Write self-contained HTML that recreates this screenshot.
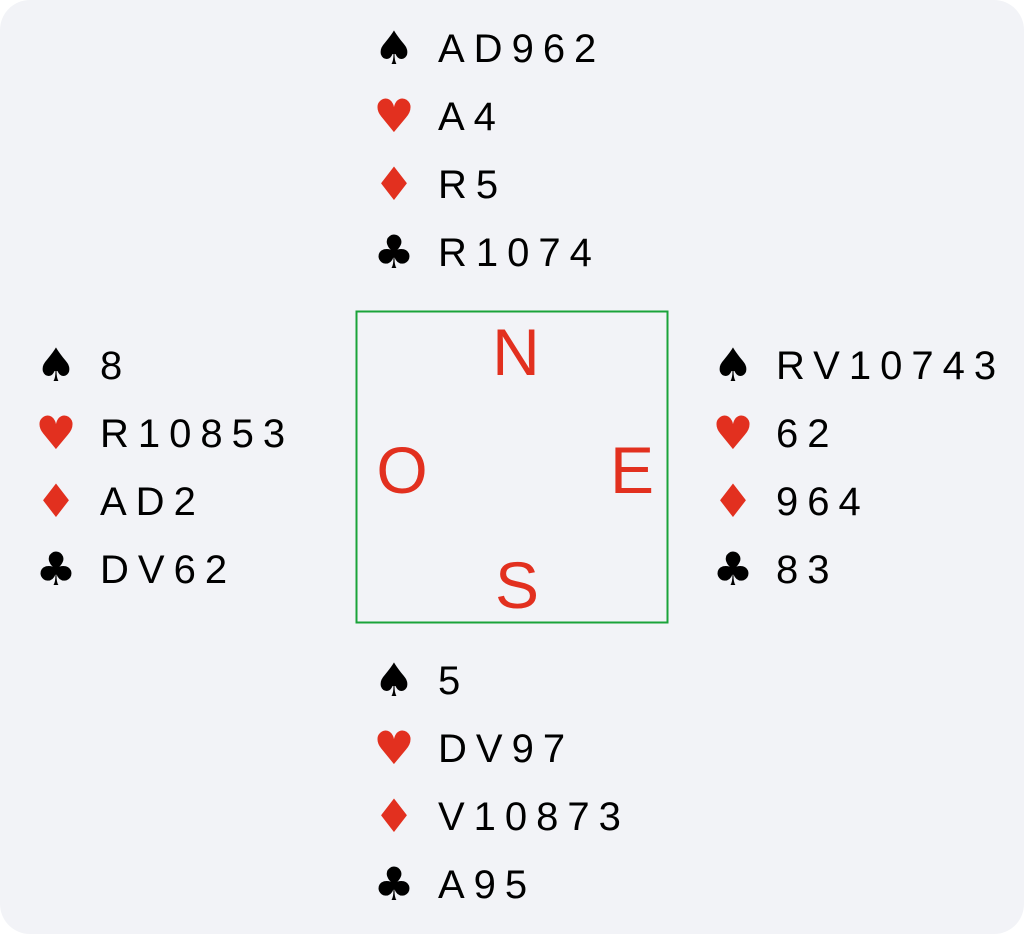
<!DOCTYPE html>
<html><head><meta charset="utf-8"><style>
html,body{margin:0;padding:0;background:#fff;}
svg{display:block}
.t{font-family:"Liberation Sans",sans-serif;font-size:40px;letter-spacing:9px;fill:#000;}
.s{font-family:"DejaVu Sans",sans-serif;font-size:46px;text-anchor:middle;}
.k{fill:#000}.r{fill:#e2301f}
.L{font-family:"Liberation Sans",sans-serif;font-size:66px;fill:#e2301f;text-anchor:middle;}
</style></head><body>
<svg width="1024" height="934" viewBox="0 0 1024 934">
<rect x="0" y="0" width="1024" height="934" rx="30" fill="#f2f3f7"/>
<rect x="356.5" y="311.5" width="311" height="311" fill="none" stroke="#1aa33a" stroke-width="2"/>
<text class="L" x="516" y="375">N</text>
<text class="L" x="402" y="493">O</text>
<text class="L" x="632" y="493">E</text>
<text class="L" x="517" y="608">S</text>
<g>
<text class="s k" x="394" y="64">♠</text><text class="t" x="438" y="62">AD962</text>
<text class="s r" x="394" y="132">♥</text><text class="t" x="438" y="130">A4</text>
<text class="s r" x="394" y="200">♦</text><text class="t" x="438" y="198">R5</text>
<text class="s k" x="394" y="268">♣</text><text class="t" x="438" y="266">R1074</text>
</g>
<g>
<text class="s k" x="56" y="381">♠</text><text class="t" x="100" y="379">8</text>
<text class="s r" x="56" y="449">♥</text><text class="t" x="100" y="447">R10853</text>
<text class="s r" x="56" y="517">♦</text><text class="t" x="100" y="515">AD2</text>
<text class="s k" x="56" y="585">♣</text><text class="t" x="100" y="583">DV62</text>
</g>
<g>
<text class="s k" x="733" y="381">♠</text><text class="t" x="776" y="379">RV10743</text>
<text class="s r" x="733" y="449">♥</text><text class="t" x="776" y="447">62</text>
<text class="s r" x="733" y="517">♦</text><text class="t" x="776" y="515">964</text>
<text class="s k" x="733" y="585">♣</text><text class="t" x="776" y="583">83</text>
</g>
<g>
<text class="s k" x="394" y="696">♠</text><text class="t" x="438" y="694">5</text>
<text class="s r" x="394" y="764">♥</text><text class="t" x="438" y="762">DV97</text>
<text class="s r" x="394" y="832">♦</text><text class="t" x="438" y="830">V10873</text>
<text class="s k" x="394" y="900">♣</text><text class="t" x="438" y="898">A95</text>
</g>
</svg>
</body></html>
